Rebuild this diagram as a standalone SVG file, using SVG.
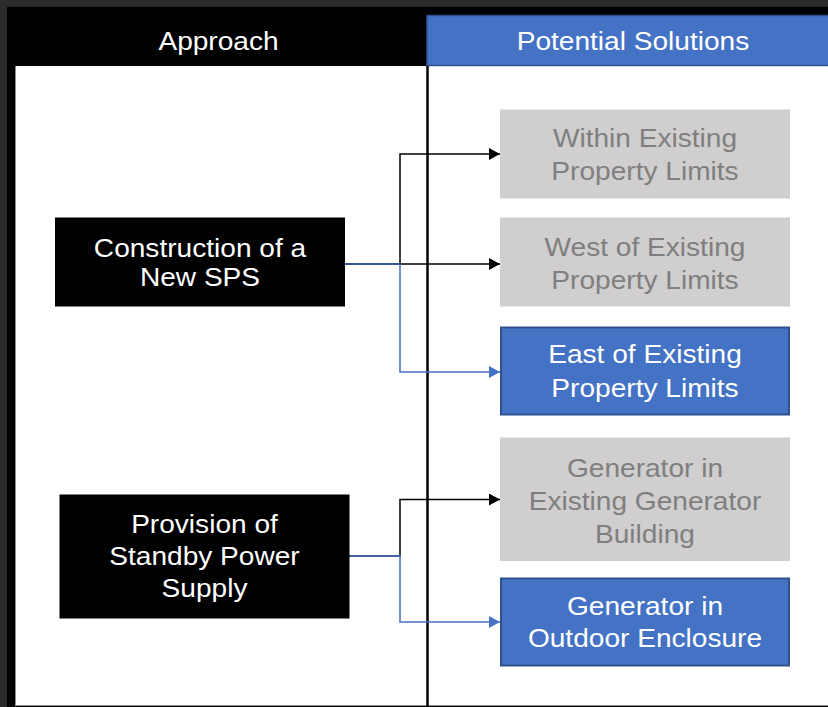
<svg xmlns="http://www.w3.org/2000/svg" width="828" height="707" viewBox="0 0 828 707">
  <style>
    .t { font-family: "Liberation Sans", Arial, sans-serif; font-size: 26.5px; text-anchor: middle; }
    .w { fill: #ffffff; }
    .g { fill: #7f7f7f; }
    .gray { fill: #d0cece; }
    .blue { fill: #4472c4; stroke: #2f528f; stroke-width: 2; }
    .blk { fill: #000000; }
    .cb { fill: none; stroke: #000000; stroke-width: 1.5; }
    .cl { fill: none; stroke: #4472c4; stroke-width: 1.5; }
  </style>
  <defs>
    <marker id="ab" markerWidth="12" markerHeight="12" refX="11" refY="6" orient="auto" markerUnits="userSpaceOnUse">
      <path d="M0,0 L11,6 L0,12 Z" fill="#000000"/>
    </marker>
    <marker id="al" markerWidth="12" markerHeight="12" refX="11" refY="6" orient="auto" markerUnits="userSpaceOnUse">
      <path d="M0,0 L11,6 L0,12 Z" fill="#4472c4"/>
    </marker>
  </defs>

  <g id="frame">
    <rect x="0" y="0" width="828" height="707" fill="#2b2b2b"/>
    <rect x="7" y="7" width="821" height="700" fill="#000000"/>
    <rect x="15" y="66" width="813" height="640" fill="#ffffff"/>
    <path d="M15.5,66 V705.5 H828" fill="none" stroke="#8a8a8a" stroke-width="1"/>
    <rect x="427" y="15.5" width="402" height="50" fill="#4472c4" stroke="#2f528f" stroke-width="1.5"/>
    <line x1="427.5" y1="66" x2="427.5" y2="706" stroke="#000000" stroke-width="2.5"/>
    <text class="t w" x="218.5" y="50" transform="matrix(1.06 0 0 1 -13.1 0)">Approach</text>
    <text class="t w" x="633" y="50" transform="matrix(1.06 0 0 1 -38 0)">Potential Solutions</text>
  </g>

  <g id="connectors">
    <path class="cb" d="M344,264 H400 V154 H500" marker-end="url(#ab)"/>
    <path class="cb" d="M344,264 H500" marker-end="url(#ab)"/>
    <path class="cl" d="M344,264 H400 V372 H500" marker-end="url(#al)"/>
    <path class="cb" d="M349,556 H400 V499.5 H500" marker-end="url(#ab)"/>
    <path class="cl" d="M349,556 H400 V622 H500" marker-end="url(#al)"/>
  </g>

  <g id="node-construction">
    <rect class="blk" x="55" y="217.5" width="290" height="89"/>
    <text class="t w" x="200" y="257" transform="matrix(1.06 0 0 1 -12 0)">Construction of a</text>
    <text class="t w" x="200" y="286" transform="matrix(1.06 0 0 1 -12 0)">New SPS</text>
  </g>

  <g id="node-standby">
    <rect class="blk" x="59.5" y="494.5" width="290" height="124"/>
    <text class="t w" x="204.5" y="533" transform="matrix(1.06 0 0 1 -12.27 0)">Provision of</text>
    <text class="t w" x="204.5" y="565" transform="matrix(1.06 0 0 1 -12.27 0)">Standby Power</text>
    <text class="t w" x="204.5" y="597" transform="matrix(1.06 0 0 1 -12.27 0)">Supply</text>
  </g>

  <g id="node-within">
    <rect class="gray" x="500" y="109.5" width="290" height="89"/>
    <text class="t g" x="645" y="147" transform="matrix(1.06 0 0 1 -38.7 0)">Within Existing</text>
    <text class="t g" x="645" y="180" transform="matrix(1.06 0 0 1 -38.7 0)">Property Limits</text>
  </g>

  <g id="node-west">
    <rect class="gray" x="500" y="217.5" width="290" height="89"/>
    <text class="t g" x="645" y="256" transform="matrix(1.06 0 0 1 -38.7 0)">West of Existing</text>
    <text class="t g" x="645" y="289.5" transform="matrix(1.06 0 0 1 -38.7 0)">Property Limits</text>
  </g>

  <g id="node-east">
    <rect class="blue" x="501" y="327.5" width="288" height="87"/>
    <text class="t w" x="645" y="363.5" transform="matrix(1.06 0 0 1 -38.7 0)">East of Existing</text>
    <text class="t w" x="645" y="397.5" transform="matrix(1.06 0 0 1 -38.7 0)">Property Limits</text>
  </g>

  <g id="node-existing-generator">
    <rect class="gray" x="500" y="437.5" width="290" height="123.5"/>
    <text class="t g" x="645" y="477" transform="matrix(1.06 0 0 1 -38.7 0)">Generator in</text>
    <text class="t g" x="645" y="510" transform="matrix(1.06 0 0 1 -38.7 0)">Existing Generator</text>
    <text class="t g" x="645" y="543" transform="matrix(1.06 0 0 1 -38.7 0)">Building</text>
  </g>

  <g id="node-outdoor">
    <rect class="blue" x="501" y="578.5" width="288" height="87"/>
    <text class="t w" x="645" y="615" transform="matrix(1.06 0 0 1 -38.7 0)">Generator in</text>
    <text class="t w" x="645" y="647" transform="matrix(1.06 0 0 1 -38.7 0)">Outdoor Enclosure</text>
  </g>
</svg>
